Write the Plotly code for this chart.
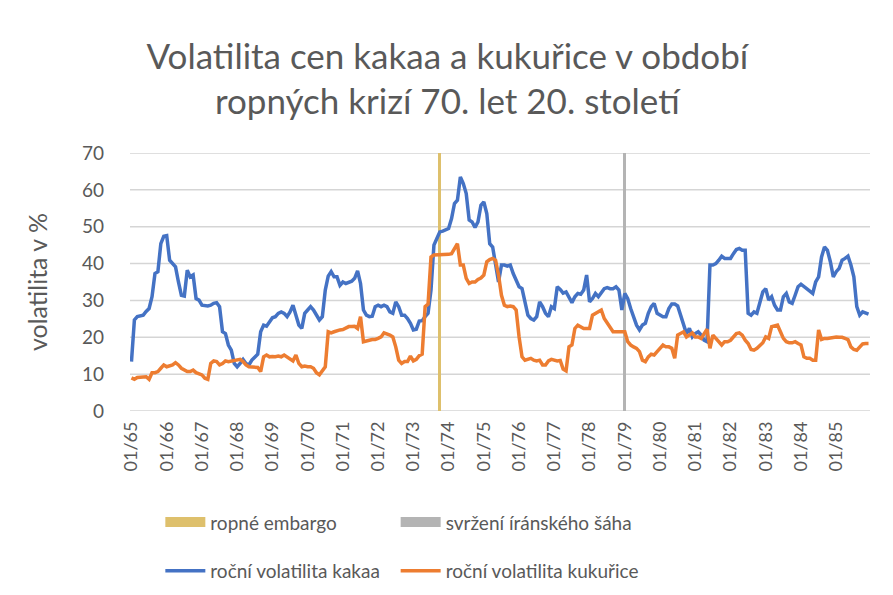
import plotly.graph_objects as go

# ---------------- data ----------------
years = list(range(65, 86))
months = [f"{m:02d}/{y:02d}" for y in years for m in range(1, 13)]
tick_labels = [f"01/{y:02d}" for y in years]
y_ticks = list(range(0, 71, 10))

cocoa = [
    13.4, 24.7, 25.6, 25.7, 26.0, 27.0, 27.8, 31.0, 37.3, 37.8, 45.4, 47.4,
    47.6, 40.9, 39.8, 39.1, 35.0, 31.4, 31.2, 38.2, 36.4, 36.9, 30.5, 30.1,
    28.7, 28.5, 28.5, 28.7, 29.2, 29.4, 28.3, 21.5, 21.0, 17.9, 16.5, 12.9,
    12.0, 12.9, 14.0, 12.9, 12.5, 13.8, 14.7, 15.4, 21.5, 23.3, 23.0, 24.2,
    25.3, 25.6, 26.5, 26.9, 26.5, 25.6, 26.9, 28.7, 25.6, 23.3, 22.4, 26.5,
    27.4, 28.3, 27.4, 26.0, 24.7, 25.6, 32.8, 36.6, 37.8, 36.4, 36.4, 34.1,
    35.0, 34.6, 35.0, 35.2, 36.0, 38.0, 34.6, 27.4, 26.0, 25.6, 25.7, 28.3,
    28.7, 28.3, 28.7, 28.3, 26.9, 26.5, 29.6, 28.3, 26.0, 26.0, 25.1, 23.8,
    22.0, 22.2, 24.4, 24.5, 25.6, 26.5, 32.8, 45.0, 46.8, 48.6, 48.8, 49.1,
    49.5, 52.2, 56.3, 57.2, 63.5, 61.7, 59.0, 51.8, 51.3, 49.8, 51.3, 55.8,
    56.7, 53.6, 45.4, 44.5, 40.0, 35.0, 39.6, 39.6, 39.3, 39.6, 37.3, 35.5,
    33.7, 33.2, 29.2, 26.0, 25.1, 24.7, 25.6, 29.6, 28.3, 26.5, 25.6, 28.3,
    27.8, 33.7, 33.0, 32.0, 32.3, 31.0, 29.4, 31.0, 31.9, 31.7, 32.8, 36.9,
    29.6, 30.5, 31.9, 31.0, 32.3, 33.2, 33.5, 33.2, 33.2, 33.7, 32.8, 27.4,
    31.9, 30.5, 27.8, 25.6, 23.3, 22.0, 23.3, 23.8, 26.5, 28.3, 29.2, 26.5,
    26.0, 25.6, 25.6, 27.8, 29.0, 29.0, 28.5, 26.0, 23.8, 21.0, 22.4, 20.1,
    21.0, 21.5, 20.6, 19.2, 18.8, 39.6, 39.6, 40.0, 40.9, 42.0, 41.4, 41.4,
    41.4, 42.7, 43.8, 44.1, 43.6, 43.6, 26.5, 26.0, 26.9, 26.5, 29.2, 32.3,
    33.2, 30.1, 31.0, 28.7, 27.4, 27.4, 31.0, 31.9, 29.6, 29.2, 31.4, 33.7,
    34.4, 33.7, 33.2, 32.3, 31.9, 35.0, 36.4, 41.8, 44.5, 43.6, 40.5, 36.4,
    37.8, 38.7, 40.9, 41.4, 42.0, 39.6, 36.4, 28.3, 26.0, 26.9, 26.6, 26.3,
]

corn = [
    9.0, 8.6, 9.1, 9.1, 9.3, 9.3, 8.6, 10.4, 10.4, 10.7, 11.6, 12.5,
    12.0, 12.2, 12.5, 13.1, 12.5, 11.6, 11.1, 10.7, 10.7, 11.1, 10.4, 10.0,
    9.8, 8.9, 8.6, 12.9, 13.6, 13.4, 12.5, 12.9, 13.6, 13.4, 13.6, 13.8,
    13.8, 14.0, 13.4, 12.5, 12.0, 12.0, 12.0, 11.8, 10.7, 14.7, 15.2, 14.7,
    14.8, 14.7, 14.9, 14.7, 15.2, 14.7, 14.0, 13.6, 15.2, 12.9, 12.0, 12.2,
    12.0, 12.0, 11.6, 10.4, 9.8, 11.1, 12.0, 21.5, 21.2, 21.5, 21.8, 22.0,
    22.1, 22.4, 22.9, 22.9, 23.0, 22.4, 25.6, 18.8, 19.1, 19.2, 19.4, 19.4,
    19.7, 20.1, 21.2, 21.0, 20.6, 20.1, 17.4, 13.8, 12.9, 13.4, 13.4, 14.9,
    13.6, 14.0, 15.0, 15.4, 28.3, 29.0, 41.8, 42.3, 42.3, 42.5, 42.3, 42.3,
    42.5, 42.7, 44.1, 45.4, 39.6, 39.6, 36.0, 34.6, 35.0, 35.0, 35.7, 36.1,
    36.9, 40.5, 41.1, 41.4, 40.9, 36.9, 31.4, 28.7, 28.3, 28.5, 28.3, 27.4,
    20.1, 14.7, 13.8, 14.0, 14.3, 13.8, 13.6, 13.8, 12.5, 12.5, 13.6, 14.0,
    13.8, 13.6, 13.7, 11.4, 10.9, 17.4, 17.9, 22.4, 23.3, 22.9, 22.4, 22.4,
    22.4, 26.0, 26.5, 26.9, 27.4, 25.1, 23.8, 22.9, 21.5, 21.5, 21.5, 21.5,
    21.5, 18.8, 17.9, 17.4, 17.0, 16.1, 13.8, 13.4, 14.7, 15.4, 15.2, 16.1,
    17.0, 17.9, 17.4, 17.4, 17.0, 14.3, 20.6, 21.0, 21.5, 20.1, 20.6, 21.2,
    20.1, 20.1, 19.7, 21.0, 22.2, 17.0, 20.6, 19.7, 18.8, 17.9, 18.8, 18.8,
    19.2, 20.1, 21.0, 21.2, 20.6, 19.2, 18.3, 16.7, 16.5, 17.0, 17.9, 18.5,
    20.1, 19.7, 22.9, 23.0, 23.3, 21.5, 19.7, 18.8, 18.5, 18.5, 18.8, 18.3,
    17.9, 14.7, 14.3, 14.3, 13.8, 13.8, 22.0, 19.4, 19.7, 19.7, 19.9, 20.1,
    20.1, 20.0, 20.0, 19.7, 19.4, 17.4, 16.7, 16.5, 17.4, 18.2, 18.3, 18.3,
]

embargo_month = ["10/73"]
embargo_value = [70]
shah_month = ["01/79"]
shah_value = [70]

# ---------------- style ----------------
BLUE = "#4472C4"
ORANGE = "#ED7D31"
GOLD = "#DEC06C"
GREY = "#B4B4B4"
TXT = "#595959"
GRID = "#D5D5D5"
FONT = "Lato"

fig = go.Figure()

fig.add_trace(go.Bar(x=embargo_month, y=embargo_value, width=[1],
                     marker=dict(color=GOLD, line=dict(width=0)),
                     name="ropné embargo", legendgroup="emb", showlegend=False,
                     hoverinfo="skip"))
fig.add_trace(go.Bar(x=shah_month, y=shah_value, width=[1],
                     marker=dict(color=GREY, line=dict(width=0)),
                     name="svržení íránského šáha", legendgroup="shah", showlegend=False,
                     hoverinfo="skip"))

fig.add_trace(go.Scatter(x=months, y=cocoa, mode="lines",
                         line=dict(color=BLUE, width=3.5),
                         name="roční volatilita kakaa", legend="legend3"))
fig.add_trace(go.Scatter(x=months, y=corn, mode="lines",
                         line=dict(color=ORANGE, width=3.5),
                         name="roční volatilita kukuřice", legend="legend4"))

# legend entries for the two event columns (box-like symbol)
fig.add_trace(go.Scatter(x=[None], y=[None], mode="lines",
                         line=dict(color=GOLD, width=10),
                         name="ropné embargo", legendgroup="emb", legend="legend"))
fig.add_trace(go.Scatter(x=[None], y=[None], mode="lines",
                         line=dict(color=GREY, width=10),
                         name="svržení íránského šáha", legendgroup="shah", legend="legend2"))

# horizontal gridlines at the y-axis tick values
for v in y_ticks:
    fig.add_hline(y=v, line=dict(color=GRID, width=1.5), layer="below")

leg_common = dict(orientation="h", xanchor="left", yanchor="top", itemwidth=40,
                  font=dict(size=19, color=TXT), bgcolor="rgba(0,0,0,0)",
                  itemclick=False, itemdoubleclick=False)
COL1, COL2 = 0.041, 0.359
ROW1, ROW2 = -0.3575, -0.5465

fig.update_layout(
    width=893, height=595,
    margin=dict(l=122, r=31, t=145, b=192, autoexpand=False),
    paper_bgcolor="white", plot_bgcolor="white",
    font=dict(family=FONT, color=TXT, size=17),
    title=dict(text="Volatilita cen kakaa a kukuřice v období<br>ropných krizí 70. let 20. století",
               x=0.492, xref="container", xanchor="center",
               y=0.898, yref="container", yanchor="top",
               font=dict(family=FONT, size=35, color=TXT)),
    showlegend=True,
    legend=dict(x=COL1, y=ROW1, **leg_common),
    legend2=dict(x=COL2, y=ROW1, **leg_common),
    legend3=dict(x=COL1, y=ROW2, **leg_common),
    legend4=dict(x=COL2, y=ROW2, **leg_common),
    bargap=0,
    xaxis=dict(type="category", categoryorder="array", categoryarray=months,
               range=[-0.5, len(months) - 0.5], automargin=False,
               tickmode="array", tickvals=tick_labels, ticktext=tick_labels,
               tickangle=-90, tickfont=dict(size=18, color=TXT),
               showgrid=False, showline=False, zeroline=False, ticks="",
               ticklabelstandoff=6),
    yaxis=dict(range=[0, 70], tickmode="array", tickvals=y_ticks,
               showgrid=False, automargin=False, zeroline=False, showline=False,
               tickfont=dict(size=19, color=TXT), ticks="",
               ticklabelstandoff=25,
               title=dict(text="volatilita v %", font=dict(size=25, color=TXT), standoff=27)),
)

fig.write_html("out.html")
